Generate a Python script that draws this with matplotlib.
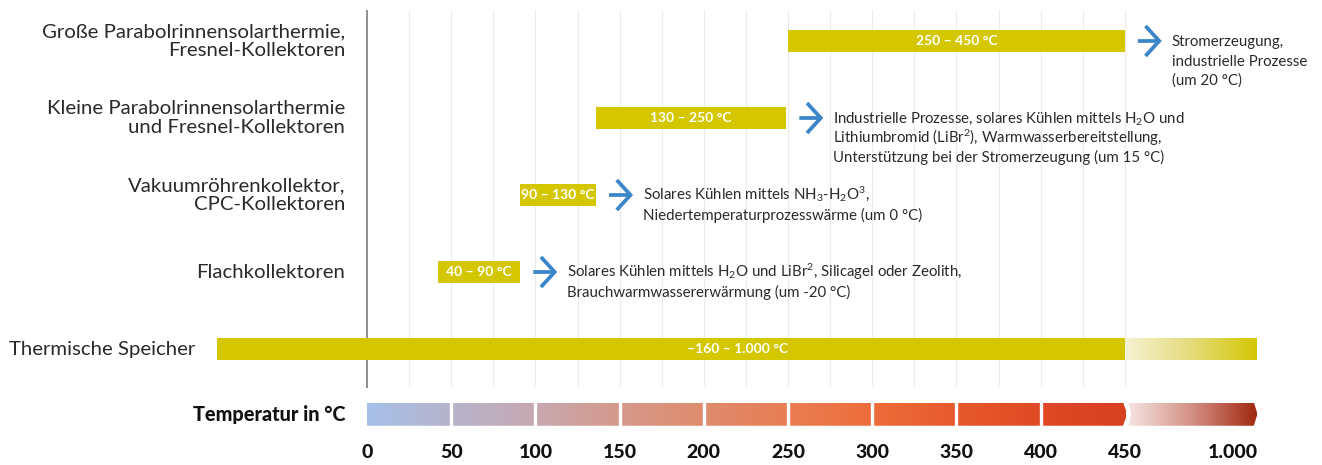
import numpy as np
import matplotlib
matplotlib.use("Agg")
import matplotlib.pyplot as plt
import matplotlib.transforms as mtransforms
from matplotlib.patches import Polygon
from matplotlib.colors import LinearSegmentedColormap

plt.rcParams['font.family'] = ['Lato', 'DejaVu Sans']
plt.rcParams['mathtext.fontset'] = 'custom'
plt.rcParams['mathtext.rm'] = 'Lato'
plt.rcParams['mathtext.it'] = 'Lato:italic'
plt.rcParams['mathtext.bf'] = 'Lato:bold'

# ---------------- data ----------------
categories = [
    "Große Parabolrinnensolarthermie,\nFresnel-Kollektoren",
    "Kleine Parabolrinnensolarthermie\nund Fresnel-Kollektoren",
    "Vakuumröhrenkollektor,\nCPC-Kollektoren",
    "Flachkollektoren",
    "Thermische Speicher",
]
range_start = [250, 136, 91, 42, -160]
range_end = [450, 249, 136, 91, 1000]
range_labels = ["250 – 450 °C", "130 – 250 °C", "90 – 130 °C", "40 – 90 °C",
                "–160 – 1.000 °C"]
applications = [
    ["Stromerzeugung,", "industrielle Prozesse", "(um 20 °C)"],
    ["Industrielle Prozesse, solares Kühlen mittels H$_2$O und",
     "Lithiumbromid (LiBr$^2$), Warmwasserbereitstellung,",
     "Unterstützung bei der Stromerzeugung (um 15 °C)"],
    ["Solares Kühlen mittels NH$_3$-H$_2$O$^3$,",
     "Niedertemperaturprozesswärme (um 0 °C)"],
    ["Solares Kühlen mittels H$_2$O und LiBr$^2$, Silicagel oder Zeolith,",
     "Brauchwarmwassererwärmung (um -20 °C)"],
    None,
]
temp_ticks = [0, 50, 100, 150, 200, 250, 300, 350, 400, 450, 1000]
temp_tick_labels = ["0", "50", "100", "150", "200", "250", "300", "350",
                    "400", "450", "1.000"]
grid_ticks = list(range(25, 475, 25))
axis_title = "Temperatur in °C"

# ---------------- style ----------------
YELLOW = "#d4c700"
BLUE = "#3a86c8"
TEXT = "#2a2a2a"
DPI = 100
W, H = 1322, 465
PX_PER_U = 1.684        # pixels per unit on the linear part
X0_PX = 367             # pixel of 0 °C
ROW0_PX, ROW_PX = 41, 77

# broken temperature scale: compressed below 0 and above 450
NEG_K = 89.0 / 160.0
HI_K = 78.8 / 550.0


def fwd(t):
    t = np.asarray(t, dtype=float)
    return np.where(t < 0, t * NEG_K, np.where(t > 450, 450 + (t - 450) * HI_K, t))


def inv(u):
    u = np.asarray(u, dtype=float)
    return np.where(u < 0, u / NEG_K, np.where(u > 450, 450 + (u - 450) / HI_K, u))


def shift(t, dpx):
    return float(inv(fwd(t) + dpx / PX_PER_U))


fig = plt.figure(figsize=(W / DPI, H / DPI), dpi=DPI)
ax = fig.add_axes([0, 0, 1, 1])
ax.set_xscale('function', functions=(fwd, inv))
ax.set_axis_off()

rows = np.arange(len(categories))


def px_off(dx, dy):
    return ax.transData + mtransforms.ScaledTranslation(dx / DPI, -dy / DPI, fig.dpi_scale_trans)


bar_h = 22 / ROW_PX
grid_top = rows[0] - 31 / ROW_PX
grid_bot = rows[-1] + 37 / ROW_PX
cbar_row = rows[-1] + 65 / ROW_PX
cbar_h = 23.5 / ROW_PX
tick_row = rows[-1] + 103 / ROW_PX

# grid and axis line
ax.vlines(grid_ticks, grid_top, grid_bot, color="#ebebeb", lw=0.8, zorder=0)
ax.vlines([0], grid_top, grid_bot + 2 / ROW_PX, color="#7a7a7a", lw=1.2, zorder=1)

# bars
for i, (s, e, lab) in enumerate(zip(range_start, range_end, range_labels)):
    if e > 450:
        ax.barh(rows[i], 450 - s, left=s, height=bar_h, color=YELLOW, lw=0, zorder=2)
        grad = np.linspace(0, 1, 256).reshape(1, -1)
        cm = LinearSegmentedColormap.from_list("y", ["#f6f2d2", "#e4db7a", YELLOW])
        ax.imshow(grad, extent=(450, e, rows[i] + bar_h / 2, rows[i] - bar_h / 2),
                  cmap=cm, aspect='auto', interpolation='bicubic', zorder=2)
    else:
        ax.barh(rows[i], e - s, left=s, height=bar_h, color=YELLOW, lw=0, zorder=2)
    xm = float(inv((fwd(s) + fwd(e)) / 2))
    ax.text(xm, rows[i], lab, color="white", fontsize=10, fontweight="bold",
            ha="center", va="center", zorder=3)
    # category label
    ax.text(min(s, 0), rows[i], categories[i], transform=px_off(-22, 0),
            ha="right", va="center", multialignment="right", fontsize=14.7,
            color=TEXT, linespacing=1.1)
    # arrow + application text
    if applications[i] is not None:
        ax.annotate("", xy=(e, rows[i]), xycoords=px_off(37, 0),
                    xytext=(e, rows[i]), textcoords=px_off(13, 0),
                    arrowprops=dict(arrowstyle="->,head_length=0.55,head_width=0.6",
                                    mutation_scale=18,
                                    color=BLUE, lw=2.7, shrinkA=0, shrinkB=0,
                                    joinstyle="miter", capstyle="butt"))
        for j, line in enumerate(applications[i]):
            ax.text(e, rows[i], line, transform=px_off(47, 5 + 19.5 * j),
                    ha="left", va="baseline", fontsize=10.8, color=TEXT)

# temperature colour band
yt, yb = cbar_row - cbar_h / 2, cbar_row + cbar_h / 2
main_cm = LinearSegmentedColormap.from_list("t", [
    (0.0, "#a6c1e9"), (0.11, "#b7b3cb"), (0.22, "#c7a8b0"), (0.33, "#d6998a"),
    (0.44, "#df8b6d"), (0.55, "#e97d52"), (0.66, "#ee6c3a"), (0.78, "#e6582b"),
    (0.89, "#df4824"), (1.0, "#d83f1e")])
hi_cm = LinearSegmentedColormap.from_list("h", ["#f8e8e6", "#d49084", "#a0260e"])
grad = np.linspace(0, 1, 256).reshape(1, -1)

t_lin_end = temp_ticks[-2]
t_max = temp_ticks[-1]
poly1 = Polygon([(temp_ticks[0], yt), (shift(t_lin_end, -1.8), yt),
                 (shift(t_lin_end, 2.5), cbar_row), (shift(t_lin_end, -1.8), yb),
                 (temp_ticks[0], yb)], closed=True, transform=ax.transData)
im1 = ax.imshow(grad, extent=(temp_ticks[0], t_lin_end + 5, yb, yt), cmap=main_cm,
                aspect='auto', interpolation='bicubic', zorder=2)
im1.set_clip_path(poly1)
poly2 = Polygon([(shift(t_lin_end, 3.2), yt), (shift(t_max, -3.7), yt),
                 (t_max, cbar_row), (shift(t_max, -3.7), yb),
                 (shift(t_lin_end, 3.2), yb), (shift(t_lin_end, 6.5), cbar_row)],
                closed=True, transform=ax.transData)
im2 = ax.imshow(grad, extent=(t_lin_end, t_max, yb, yt), cmap=hi_cm,
                aspect='auto', interpolation='bicubic', zorder=2)
im2.set_clip_path(poly2)
ax.vlines(temp_ticks[1:-2], yt - 0.02, yb + 0.02, color="white", lw=2.4, zorder=3)

# tick labels
for t, lab in zip(temp_ticks, temp_tick_labels):
    ax.text(t, tick_row, lab, ha="right" if t == t_max else "center", va="center",
            fontsize=14, fontweight="black", color="#111111")
ax.text(0, cbar_row, axis_title, transform=px_off(-22, 0), ha="right", va="center",
        fontsize=14.3, fontweight="black", color="#111111")

ax.set_xlim(float(inv(-X0_PX / PX_PER_U)), float(inv((W - X0_PX) / PX_PER_U)))
ax.set_ylim((H - ROW0_PX) / ROW_PX, -ROW0_PX / ROW_PX)

fig.savefig("out.png", dpi=DPI)
